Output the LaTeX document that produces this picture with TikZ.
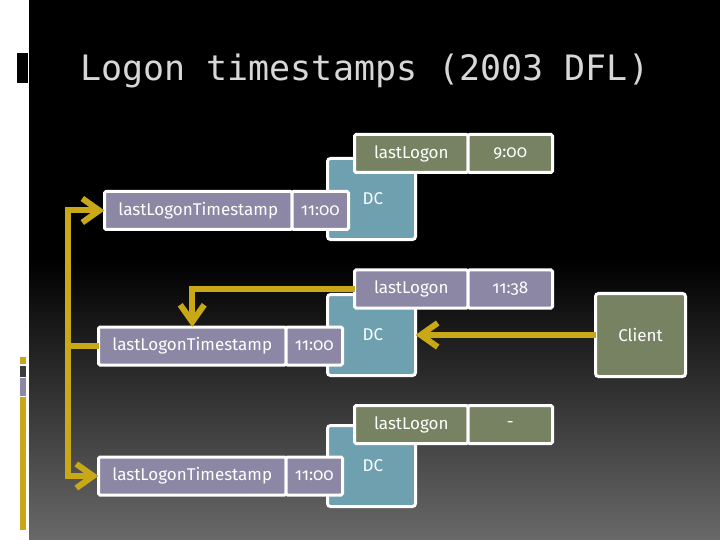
\documentclass[tikz,border=0pt]{standalone}
\usepackage{fontspec}
\setmainfont{Fira Sans}[Numbers=OldStyle]
\newfontfamily\titlefont{DejaVu Sans Mono}
\usetikzlibrary{positioning,arrows.meta}
\definecolor{dcteal}{RGB}{110,160,176}
\definecolor{logongreen}{RGB}{119,130,98}
\definecolor{stamppurple}{RGB}{140,135,165}
\definecolor{flowgold}{RGB}{200,168,22}
\definecolor{titlegray}{RGB}{215,215,215}
\definecolor{bargray}{RGB}{60,60,60}
\definecolor{bottomgray}{RGB}{105,105,105}
\tikzset{
  cell/.style={draw=white, line width=3bp, rounded corners=1.5bp, outer sep=0pt, inner sep=0pt,
               minimum height=38bp, text=white, font=\fontsize{17bp}{20bp}\selectfont\addfontfeatures{Numbers=OldStyle}},
  dc/.style={cell, rounded corners=3bp, fill=dcteal, minimum width=88bp, minimum height=81bp},
  stamp/.style={cell, fill=stamppurple},
  logon/.style={cell, fill=logongreen},
  client/.style={cell, rounded corners=3bp, fill=logongreen, minimum width=90bp, minimum height=83bp},
  lbl/.style={text=white, inner sep=2bp, font=\fontsize{17bp}{20bp}\selectfont},
  title/.style={text=titlegray, inner sep=0pt, font=\titlefont\fontsize{35bp}{40bp}\selectfont},
  flowline/.style={draw=flowgold, line width=6bp},
  flow/.style={flowline, -{Straight Barb[length=17bp,width=24bp]}}
}

\begin{document}
\begin{tikzpicture}[x=1bp, y=-1bp]
    \useasboundingbox (0,0) rectangle (720,540);
    \fill[black] (29,0) rectangle (720,262);
    \shade[top color=black, bottom color=bottomgray] (29,260) rectangle (720,540);
    \fill[black] (17,53) rectangle (28,83);
    \fill[flowgold] (20,357) rectangle (26,364);
    \fill[bargray] (20,366) rectangle (26,377);
    \fill[stamppurple] (20,378) rectangle (26,396);
    \fill[flowgold] (20,397) rectangle (26,530);
    \node[title, anchor=west] (title) at (80,71) {Logon timestamps (2003 DFL)};

    \node[dc] (dcA) at (371.5,199) {};
    \node[lbl, right=33bp of dcA.west] (dcAl) {DC};
    \node[logon, minimum width=113.5bp] (llA) at (411.25,153.5) {lastLogon};
    \node[logon, minimum width=84.5bp, right=0pt of llA] (llvA) {9:00};
    \node[stamp, minimum width=187.5bp] (tsA) at (198.25,210.5) {lastLogonTimestamp};
    \node[stamp, minimum width=56.5bp, right=0pt of tsA] (tsvA) {11:00};

    \node[dc] (dcB) at (371.5,335) {};
    \node[lbl, right=33bp of dcB.west] (dcBl) {DC};
    \node[stamp, minimum width=113.5bp] (llB) at (411.25,289) {lastLogon};
    \node[stamp, minimum width=84.5bp, right=0pt of llB] (llvB) {11:38};
    \node[stamp, minimum width=187.5bp] (tsB) at (192.25,346) {lastLogonTimestamp};
    \node[stamp, minimum width=56.5bp, right=0pt of tsB] (tsvB) {11:00};
    \node[client] (client) at (640.5,335) {Client};

    \node[dc] (dcC) at (371.5,466) {};
    \node[lbl, right=33bp of dcC.west] (dcCl) {DC};
    \node[logon, minimum width=113.5bp] (llC) at (411.25,424.5) {lastLogon};
    \node[logon, minimum width=84.5bp, right=0pt of llC] (llvC) {-};
    \node[stamp, minimum width=187.5bp] (tsC) at (192.25,476) {lastLogonTimestamp};
    \node[stamp, minimum width=56.5bp, right=0pt of tsC] (tsvC) {11:00};

    \coordinate (bus) at (68,346);
    \draw[flow] (client.west) -- (dcB.east);
    \draw[flow] (llB.west) -| (tsB.north);
    \draw[flowline] (tsB.west) -- (bus);
    \draw[flow] (bus) |- (tsA.west);
    \draw[flow] (bus) |- (tsC.west);
  \end{tikzpicture}
\end{document}
